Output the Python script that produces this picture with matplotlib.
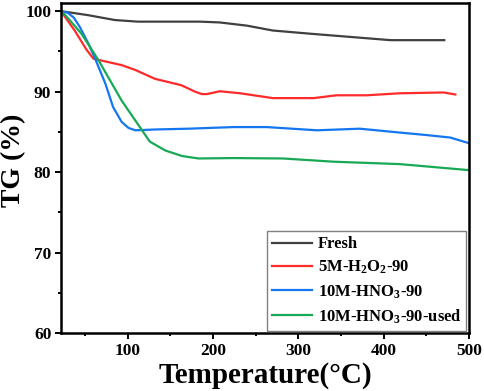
import matplotlib
matplotlib.use("Agg")
import matplotlib.pyplot as plt
from matplotlib.ticker import MultipleLocator

plt.rcParams['font.family'] = ['Liberation Serif', 'DejaVu Serif']
plt.rcParams['mathtext.fontset'] = 'custom'
plt.rcParams['mathtext.rm'] = 'Liberation Serif:bold'
plt.rcParams['mathtext.it'] = 'Liberation Serif:bold'
plt.rcParams['mathtext.bf'] = 'Liberation Serif:bold'

labels = ['Fresh', r'5M-H$_2$O$_2$-90', r'10M-HNO$_3$-90', r'10M-HNO$_3$-90-used']
colors = ['#404040', '#ff2a2a', '#1476f0', '#17a955']

fresh_x = [22, 35, 54, 85, 112, 150, 185, 208, 240, 270, 314, 361, 408, 440, 471]
fresh_y = [100, 99.8, 99.5, 98.9, 98.7, 98.7, 98.7, 98.6, 98.2, 97.6, 97.2, 96.8, 96.4, 96.4, 96.4]

h2o2_x = [22, 38, 52, 60, 68, 93, 109, 132, 163, 179, 187, 193, 208, 232, 270, 318, 345, 380, 419, 470, 484]
h2o2_y = [100, 97.6, 95.2, 94.1, 93.9, 93.3, 92.7, 91.6, 90.8, 90.0, 89.7, 89.7, 90.05, 89.8, 89.2, 89.2, 89.55, 89.55, 89.8, 89.9, 89.65]

hno3_x = [22, 30, 37, 44, 54, 62, 74, 83, 93, 101, 109, 132, 171, 224, 263, 322, 372, 411, 451, 478, 500]
hno3_y = [100, 99.8, 99.2, 98.05, 96.0, 94.1, 91.0, 88.1, 86.25, 85.5, 85.2, 85.3, 85.4, 85.6, 85.6, 85.2, 85.4, 85.0, 84.6, 84.3, 83.6]

used_x = [22, 28, 46, 66, 93, 117, 126, 144, 164, 183, 224, 282, 341, 419, 500]
used_y = [100, 99.4, 97.2, 93.9, 88.9, 85.2, 83.8, 82.7, 82.0, 81.7, 81.75, 81.7, 81.3, 81.0, 80.25]

xs = [fresh_x, h2o2_x, hno3_x, used_x]
ys = [fresh_y, h2o2_y, hno3_y, used_y]

fig = plt.figure(figsize=(4.84, 3.91), dpi=100)
ax = fig.add_axes([0.126, 0.148, 0.843, 0.844])

for x, y, c, l in zip(xs, ys, colors, labels):
    ax.plot(x, y, color=c, lw=1.6, label=l)

ax.set_xlim(22, 500)
ax.set_ylim(60, 101)
ax.xaxis.set_major_locator(MultipleLocator(100))
ax.xaxis.set_minor_locator(MultipleLocator(50))
ax.yaxis.set_major_locator(MultipleLocator(10))
ax.yaxis.set_minor_locator(MultipleLocator(5))
ax.tick_params(which='both', direction='out', top=False, right=False, width=1.4)
ax.tick_params(which='major', length=4, labelsize=12.5, pad=3)
ax.tick_params(which='minor', length=2.5)
for lab in ax.get_xticklabels() + ax.get_yticklabels():
    lab.set_fontweight('bold')
for s in ax.spines.values():
    s.set_linewidth(1.8)

ax.set_xlabel('Temperature(°C)', fontsize=21, fontweight='bold', labelpad=2)
ax.set_ylabel('TG (%)', fontsize=20, fontweight='bold')
ax.yaxis.set_label_coords(-0.085, 0.525)

leg = ax.legend(loc='lower right', prop={'weight': 'bold', 'size': 12},
                fancybox=False, edgecolor='#808080', framealpha=1,
                handlelength=2.4, handletextpad=0.35, labelspacing=0.4,
                borderpad=0.3, borderaxespad=0.15)
leg.get_frame().set_linewidth(1.0)

fig.savefig('out.png', dpi=100)
